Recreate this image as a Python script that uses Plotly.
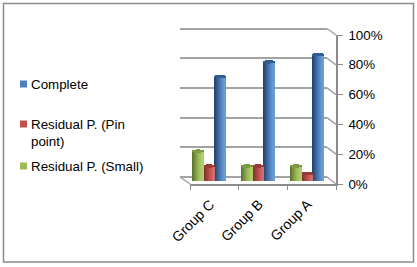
import numpy as np
import plotly.graph_objects as go

W, H = 417, 267

groups = ["Group C", "Group B", "Group A"]
series_names = ["Complete", "Residual P. (Pin<br>point)", "Residual P. (Small)"]
complete = [70, 80, 85]
pin_point = [10, 10, 5]
small = [20, 10, 10]
y_ticks = [0, 20, 40, 60, 80, 100]
y_tick_labels = ["0%", "20%", "40%", "60%", "80%", "100%"]

base_colors = ["#4f81bd", "#c0504d", "#9bbb59"]
dark_colors = ["#1f3d66", "#6f2a28", "#566f2a"]
light_colors = ["#6f9fd8", "#d9716e", "#b3d16f"]
cap_colors = ["#2f5d94", "#9a3a38", "#7d9a42"]
offsets = [0.226, 0.0, -0.226]
series_values = [complete, pin_point, small]

GRID = "#a3a3a3"
AXIS = "#8c8c8c"
TEXT = "#000000"
FONT = "Liberation Sans"


def px(x):
    return x / W


def py(y):
    return 1 - y / H


def mix(c1, c2, t):
    a = [int(c1[i:i + 2], 16) for i in (1, 3, 5)]
    b = [int(c2[i:i + 2], 16) for i in (1, 3, 5)]
    return "rgb(%d,%d,%d)" % tuple(round(a[i] + (b[i] - a[i]) * t) for i in range(3))


fig = go.Figure()

BAR_W = 0.226
N = 11
CAP = 1.2
centers = np.array([0.5, 1.5, 2.5])

# invisible traces so the front and back-wall axes exist (drawn first, under the bars)
fig.add_trace(go.Scatter(x=[0, 3], y=[0, 100], xaxis="x", yaxis="y", mode="markers",
                         marker=dict(opacity=0), showlegend=False, hoverinfo="skip"))
fig.add_trace(go.Scatter(x=[0, 1], y=[0, 100], xaxis="x2", yaxis="y2", mode="markers",
                         marker=dict(opacity=0), showlegend=False, hoverinfo="skip"))

for k in range(3):
    vals = np.array(series_values[k], dtype=float)
    xs = centers + offsets[k]
    # flat body that carries the true values
    fig.add_trace(go.Bar(x=xs, y=vals, width=BAR_W, marker=dict(color=base_colors[k], line_width=0),
                         name=series_names[k].replace("<br>", " "), xaxis="x3", yaxis="y3",
                         showlegend=False, cliponaxis=False, hoverinfo="skip"))
    sw = BAR_W / N
    for i in range(N):
        t = (i + 0.5) / N
        u = 2 * t - 1
        s = np.sqrt(1 - u * u)
        if t < 0.6:
            c = mix(dark_colors[k], base_colors[k], t / 0.6)
        else:
            c = mix(base_colors[k], light_colors[k], (t - 0.6) / 0.4)
        xi = xs - BAR_W / 2 + (i + 0.5) * sw
        fig.add_trace(go.Bar(x=xi, y=vals + CAP * s + CAP * s, base=np.full(3, -CAP * s),
                             width=sw * 1.05, marker=dict(color=c, line_width=0),
                             xaxis="x3", yaxis="y3", showlegend=False, cliponaxis=False, hoverinfo="skip"))
        fig.add_trace(go.Bar(x=xi, y=np.full(3, 2 * CAP * s), base=vals - CAP * s,
                             width=sw * 1.05, marker=dict(color=cap_colors[k], line_width=0),
                             xaxis="x3", yaxis="y3", showlegend=False, cliponaxis=False, hoverinfo="skip"))

axis_off = dict(showgrid=False, zeroline=False, showticklabels=False, ticks="", showline=False,
                automargin=False)

UNIT = 1.485
fig.update_layout(
    template="none",
    width=W, height=H, autosize=False,
    margin=dict(l=0, r=0, t=0, b=0, pad=0),
    paper_bgcolor="white", plot_bgcolor="rgba(0,0,0,0)",
    showlegend=False, barmode="overlay", bargap=0,
    font=dict(family=FONT, size=13.33, color=TEXT),
    # front axes with ticks and labels
    xaxis=dict(domain=[px(190), px(336)], range=[0, 3], anchor="y", tickmode="array", automargin=False,
               tickvals=centers.tolist(), ticktext=groups, tickangle=-45, ticks="",
               ticklabelstandoff=5, ticklabelshift=-4,
               showline=True, linecolor=AXIS, linewidth=1.5, showgrid=False, zeroline=False,
               tickfont=dict(family=FONT, size=14, color=TEXT),
               minor=dict(tickmode="array", tickvals=[0, 1, 2, 3], ticks="outside", ticklen=4,
                          tickcolor=AXIS, tickwidth=1, showgrid=False)),
    yaxis=dict(domain=[py(184), py(35)], range=[0, 100], anchor="x", side="right", tickmode="array",
               automargin=False,
               tickvals=y_ticks, ticktext=y_tick_labels, ticks="outside", ticklen=5, tickcolor=AXIS,
               tickwidth=1, showline=True, linecolor=AXIS, linewidth=1.5, showgrid=False, zeroline=False,
               ticklabelstandoff=3, tickfont=dict(family=FONT, size=13.33, color=TEXT)),
    # back wall, range padded so the 0 and 100 gridlines are drawn
    xaxis2=dict(domain=[px(180), px(327)], range=[0, 1], anchor="y2", **axis_off),
    yaxis2=dict(domain=[py(177 + 2 * UNIT), py(28.5 - 2 * UNIT)], range=[-2, 102], anchor="x2",
                automargin=False,
                tickmode="array", tickvals=y_ticks, showgrid=True, gridcolor=GRID, gridwidth=2,
                zeroline=True, zerolinecolor=GRID, zerolinewidth=2,
                showticklabels=False, ticks="", showline=False),
    # bars
    xaxis3=dict(domain=[px(185), px(331)], range=[0, 3], anchor="y3", **axis_off),
    yaxis3=dict(domain=[py(181), py(32)], range=[0, 100], anchor="x3", **axis_off),
)

shapes = []
# diagonals linking back wall to front axis
for v in y_ticks:
    yb = 177 - v / 100 * 148.5
    yf = 184 - v / 100 * 149
    shapes.append(dict(type="line", xref="paper", yref="paper", x0=px(327), x1=px(336),
                       y0=py(yb), y1=py(yf), line=dict(color=GRID, width=1.5)))
shapes.append(dict(type="line", xref="paper", yref="paper", x0=px(180), x1=px(190),
                   y0=py(177), y1=py(184), line=dict(color=GRID, width=1.5)))
# outer frame
shapes.append(dict(type="rect", xref="paper", yref="paper", x0=px(3.5), x1=px(413.5), y0=py(3.5), y1=py(262),
                   line=dict(color="#8c8c8c", width=1.5), layer="below"))

# legend
legend_y = [84, 124, 166]
anns = []
for k in range(3):
    shapes.append(dict(type="rect", xref="paper", yref="paper", x0=px(20), x1=px(27),
                       y0=py(legend_y[k] - 3.5), y1=py(legend_y[k] + 3.5),
                       fillcolor=base_colors[k], line=dict(width=0)))
    anns.append(dict(xref="paper", yref="paper", x=px(30), y=py(legend_y[k] - 8),
                     xanchor="left", yanchor="top", align="left", showarrow=False,
                     text=series_names[k], borderpad=0, font=dict(family=FONT, size=13.33, color=TEXT)))

fig.update_layout(shapes=shapes, annotations=anns)
fig.write_html("out.html", config=dict(displayModeBar=False),
               post_script="document.body.style.margin='0';document.documentElement.style.overflow='hidden';")
